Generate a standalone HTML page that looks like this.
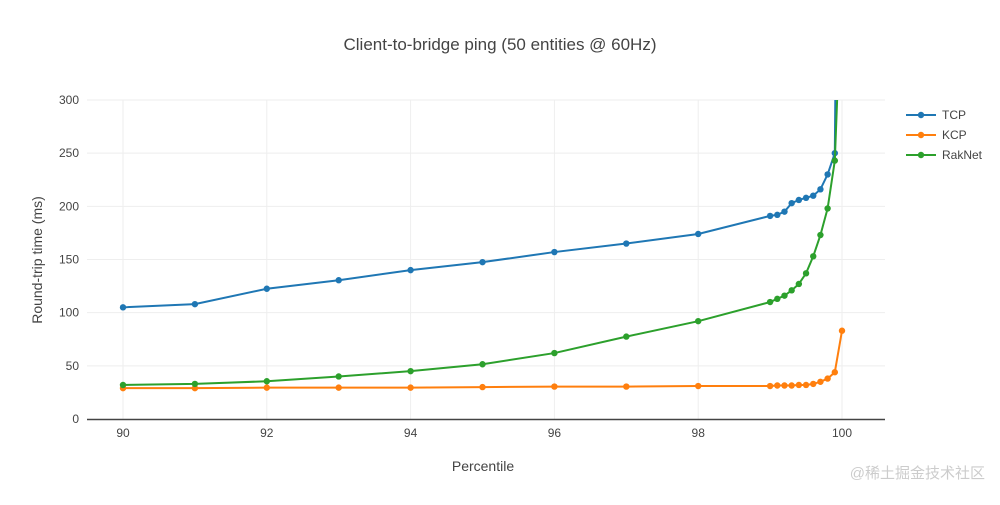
<!DOCTYPE html>
<html><head><meta charset="utf-8"><style>
body{margin:0;background:#fff;font-family:"Liberation Sans","Noto Sans CJK SC",sans-serif;}
svg text{font-family:"Liberation Sans","Noto Sans CJK SC",sans-serif;fill:#444;}
</style></head><body>
<svg id="chart" width="1000" height="500">
<defs><clipPath id="clip"><rect x="87" y="100" width="798" height="319"/></clipPath></defs>
<text x="500" y="50" text-anchor="middle" font-size="17">Client-to-bridge ping (50 entities @ 60Hz)</text>
<g id="grid"></g><g id="series" clip-path="url(#clip)"></g><g id="axes"></g>
<text x="483" y="471" text-anchor="middle" font-size="14">Percentile</text>
<text transform="translate(42,260) rotate(-90)" text-anchor="middle" font-size="14">Round-trip time (ms)</text>
<g id="legend"></g>
<text x="985" y="478" text-anchor="end" font-size="15" style="fill:#ccc">@稀土掘金技术社区</text>
</svg>
<script>
const xs=[90,91,92,93,94,95,96,97,98,99,99.1,99.2,99.3,99.4,99.5,99.6,99.7,99.8,99.9,100];
const tcp=[105,108,122.5,130.5,140,147.5,157,165,174,191,192,195,203,206,208,210,216,230,250,1000];
const kcp=[29,29,29.5,29.5,29.5,30,30.5,30.5,31,31,31.5,31.5,31.5,32,32,33,35,38,44,83];
const rak=[32,33,35.5,40,45,51.5,62,77.5,92,110,113,116,121,127,137,153,173,198,243,420];
const names=["TCP","KCP","RakNet"];
const colors=["#1f77b4","#ff7f0e","#2ca02c"];
const xTicks=[90,92,94,96,98,100];
const yTicks=[0,50,100,150,200,250,300];
const X=v=>123+(v-90)*71.9;
const Y=v=>419-v*(319/300);
const NS="http://www.w3.org/2000/svg";
function mk(t,a,p){const e=document.createElementNS(NS,t);for(const k in a)e.setAttribute(k,a[k]);p.appendChild(e);return e;}
const g=document.getElementById('grid'),ax=document.getElementById('axes'),se=document.getElementById('series'),lg=document.getElementById('legend');
yTicks.forEach(t=>{if(t>0){const l=mk('line',{x1:87,x2:885,y1:Y(t),y2:Y(t),stroke:'#eee'},g);

}
const tx=mk('text',{x:79,y:Y(t)+4,'text-anchor':'end','font-size':12},ax);tx.textContent=t;

});
xTicks.forEach(t=>{const l=mk('line',{x1:X(t),x2:X(t),y1:100,y2:419,stroke:'#eee'},g);


const tx=mk('text',{x:X(t),y:437,'text-anchor':'middle','font-size':12},ax);tx.textContent=t;

});
const xl=mk('line',{x1:87,x2:885,y1:419.5,y2:419.5,stroke:'#444','stroke-width':1.5},ax);


[tcp,kcp,rak].forEach((s,i)=>{
const p=mk('polyline',{points:s.map((v,j)=>X(xs[j])+','+Y(v)).join(' '),fill:'none',stroke:colors[i],'stroke-width':2},se);


s.forEach((v,j)=>{const c=mk('circle',{cx:X(xs[j]),cy:Y(v),r:3.2,fill:colors[i]},se);

});
const y=115+i*20;
const le=mk('g',{},lg);


mk('line',{x1:906,x2:936,y1:y,y2:y,stroke:colors[i],'stroke-width':2},le);
mk('circle',{cx:921,cy:y,r:3.2,fill:colors[i]},le);
const t=mk('text',{x:942,y:y+4,'font-size':12},le);t.textContent=names[i];});
</script>
</body></html>
